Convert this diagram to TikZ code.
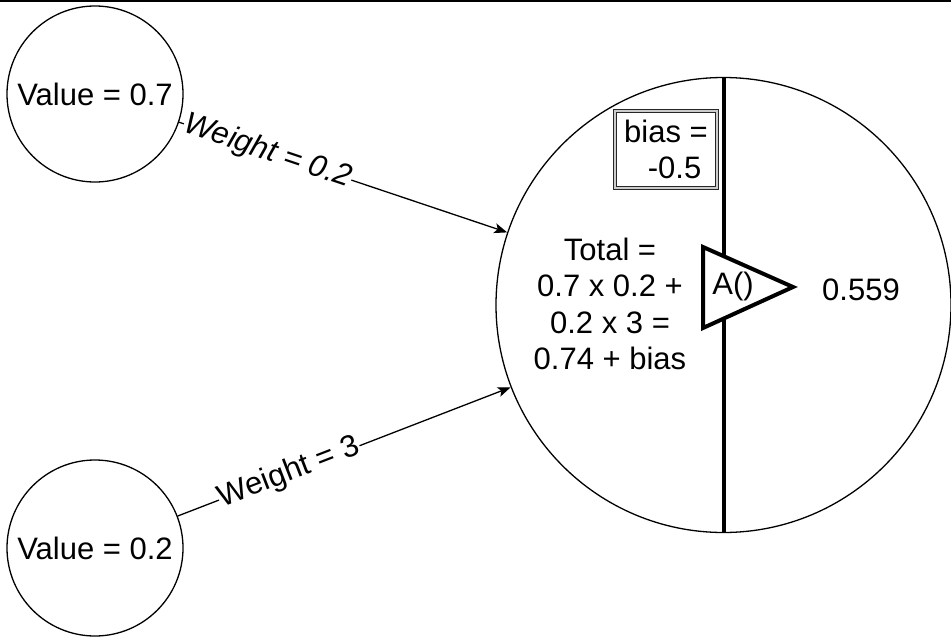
\documentclass[tikz,border=0pt]{standalone}
\usepackage{fontspec}
\setmainfont{Liberation Sans}
\usetikzlibrary{arrows.meta}
\begin{document}
\begin{tikzpicture}[x=1pt,y=-1pt,
  txt/.style={font=\fontsize{31}{36.5}\selectfont},
  every node/.style={txt},
  valnode/.style={circle,draw,line width=1.3pt,minimum size=176pt,inner sep=0pt},
  neuron/.style={circle,draw,line width=1.3pt,minimum size=455pt,inner sep=0pt},
  conn/.style={line width=1.3pt,-{Stealth[length=13pt,width=10pt,inset=3pt]}},
  wlabel/.style={sloped,fill=white,inner sep=1pt},
  thickline/.style={line width=4pt},
  biasbox/.style={draw=black!85,line width=1.4pt,double=gray!40,double distance=1.4pt,
    minimum width=102pt,minimum height=77pt,align=center,inner sep=0pt}
]
\useasboundingbox (0,0) rectangle (951,640);
\coordinate (tl) at (0,1);
\coordinate (tr) at (951,1);
\draw[line width=2.5pt] (tl) -- (tr);

\node[valnode] (c1) at (95,94) {Value = 0.7};
\node[valnode] (c2) at (95,548) {Value = 0.2};
\node[neuron] (big) at (723.5,305) {};

\draw[conn] (c1) -- (big)
  node[wlabel,pos=0.27,font=\fontsize{31}{36.5}\selectfont\itshape] (w1) {Weight = 0.2};
\draw[conn] (c2) -- (big)
  node[wlabel,pos=0.335] (w2) {Weight = 3};

\draw[thickline] (big.north) -- (big.south);

\coordinate (ta) at (703,247);
\coordinate (tb) at (703,328);
\coordinate (tc) at (793,287);
\draw[thickline,fill=white,line join=miter] (ta) -- (tb) -- (tc) -- cycle;
\node (act) at (733,286) {A()};

\node[biasbox] (bias) at (666,149.5) {bias =\\\ \ -0.5};

\node[align=center] (total) at (610,304) {Total =\\0.7 x 0.2 +\\0.2 x 3 =\\0.74 + bias};

\node (out) at (861,290) {0.559};
\end{tikzpicture}
\end{document}
